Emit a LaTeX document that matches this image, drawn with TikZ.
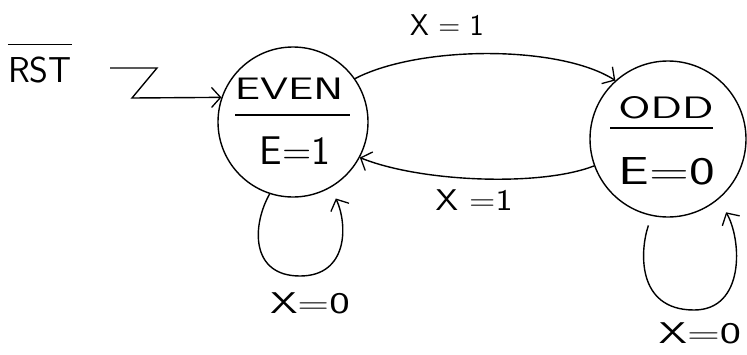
\documentclass[tikz,border=0pt]{standalone}
\usepackage{fontspec}
\usetikzlibrary{arrows.meta}
\newcommand\hwide[2]{\scalebox{#1}[1]{#2}}
\begin{document}
\begin{tikzpicture}[x=1pt,y=-1pt,
  state/.style={circle,draw,line width=1.4pt,minimum size=150pt,inner sep=0pt},
  txt/.style={inner sep=0pt},
  conn/.style={line width=1.4pt,-{Straight Barb[length=9pt,width=20pt,line width=1.3pt]}},
  divider/.style={line width=1.3pt},
]
\useasboundingbox (0,0) rectangle (747,354);
% states
\node[state] (even) at (293,122) {};
\node[state,minimum size=156pt] (odd) at (668,139) {};
% state texts
\node[txt,font=\sffamily\fontsize{31}{31}\selectfont] (evenname) at (289,89) {\hwide{1.45}{EVEN}};
\node[txt,font=\sffamily\fontsize{40}{40}\selectfont] (evenout) at (295,151) {E=1};
\node[txt,font=\sffamily\fontsize{31}{31}\selectfont] (oddname) at (666,108) {\hwide{1.5}{ODD}};
\node[txt,font=\sffamily\fontsize{39}{39}\selectfont] (oddout) at (667,171) {\hwide{1.4}{E=0}};
\coordinate (evl) at (235,115); \coordinate (evr) at (350,115);
\coordinate (odl) at (610,128); \coordinate (odr) at (713,128);
\draw[divider] (evl) -- (evr);
\draw[divider] (odl) -- (odr);
% reset
\node[txt,font=\sffamily\fontsize{36}{36}\selectfont] (rst) at (40,70) {RST};
\coordinate (rstl) at ([yshift=12pt]rst.north west);
\coordinate (rstr) at ([yshift=12pt]rst.north east);
\draw[divider] (rstl) -- (rstr);
\coordinate (zs) at (110,68);
\coordinate (z1) at (157,68);
\coordinate (z2) at (132,98);
\draw[conn] (zs) -- (z1) -- (z2) -- (even.161);
% transitions
\draw[conn] (even.35) .. controls (420,45) and (560,45) .. (odd.132);
\draw[conn] (odd.200) .. controls (540,187) and (420,182) .. (even.332);
\coordinate (evb) at (300,276);
\coordinate (odb) at (694,310);
\draw[conn,shorten >=12pt] (even.252) .. controls (252,225) and (250,276) .. (evb)
   .. controls (348,276) and (348,225) .. (even.-60);
\draw[conn,shorten <=10pt,shorten >=15pt] (odd.258) .. controls (640,250) and (636,310) .. (odb)
   .. controls (745,310) and (742,240) .. (odd.-50);
% labels
\node[txt,font=\sffamily\fontsize{30}{30}\selectfont] (l1) at (447,25) {X = 1};
\node[txt,font=\sffamily\fontsize{30}{30}\selectfont] (l2) at (474,200) {\hwide{1.2}{X =1}};
\node[txt,font=\sffamily\fontsize{30}{30}\selectfont] (l3) at (310,303) {\hwide{1.45}{X=0}};
\node[txt,font=\sffamily\fontsize{30}{30}\selectfont] (l4) at (700,333) {\hwide{1.5}{X=0}};
\end{tikzpicture}
\end{document}
